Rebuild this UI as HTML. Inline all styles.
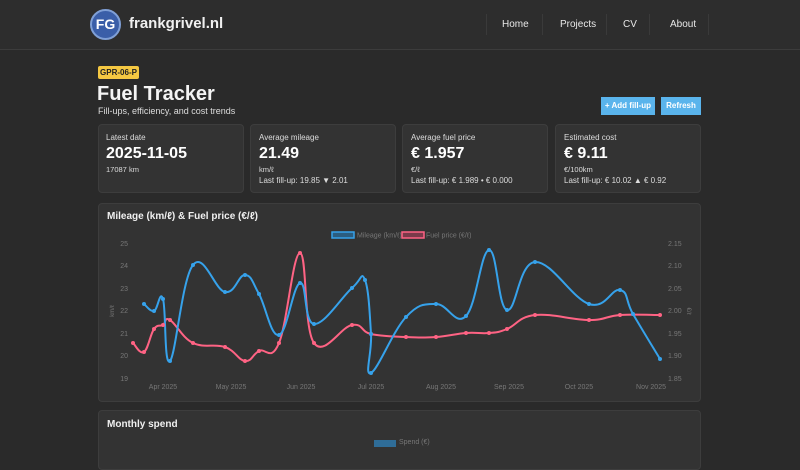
<!DOCTYPE html>
<html><head><meta charset="utf-8">
<style>
*{margin:0;padding:0;box-sizing:border-box}
body{width:800px;height:450px;overflow:hidden;background:#2a2a2a;font-family:"Liberation Sans",sans-serif;color:#eee;position:relative}
.a{position:absolute;white-space:nowrap}
.hdr{position:absolute;left:0;top:0;width:800px;height:50px;background:#2d2d2d;border-bottom:1px solid #3c3c3c}
.logo{left:90px;top:9px;width:31px;height:31px;border-radius:50%;background:#3a5ea8;border:2px solid #7f9fd6;color:#fff;font-weight:bold;font-size:14px;text-align:center;line-height:27px}
.nav{font-size:10px;color:#e8e8e8;top:19px}
.sep{top:14px;width:1px;height:21px;background:#3a3a3a}
.card{position:absolute;background:#333;border:1px solid #3d3d3d;border-radius:4px}
.lab{font-size:8px;color:#ddd}
.val{font-size:16px;font-weight:bold;color:#fff}
.sm{font-size:7.5px;color:#ddd}
.btn{position:absolute;background:#5ab4ec;color:#fff;font-size:8px;font-weight:bold;text-align:center;line-height:18px;height:18px;top:97px}
</style></head><body>
<div class="hdr"></div>
<div class="a logo">FG</div>
<div class="a" style="left:129px;top:15px;font-size:15px;font-weight:bold;color:#f0f0f0">frankgrivel.nl</div>
<div class="a sep" style="left:486px"></div><div class="a sep" style="left:542px"></div><div class="a sep" style="left:606px"></div><div class="a sep" style="left:649px"></div><div class="a sep" style="left:708px"></div>
<div class="a nav" style="left:502px">Home</div>
<div class="a nav" style="left:560px">Projects</div>
<div class="a nav" style="left:623px">CV</div>
<div class="a nav" style="left:670px">About</div>

<div class="a" style="left:98px;top:66px;width:41px;height:13px;background:#f5c842;border-radius:2px;color:#222;font-size:8px;font-weight:bold;text-align:center;line-height:13px">GPR-06-P</div>
<div class="a" style="left:97px;top:83px;font-size:20px;font-weight:bold;color:#f4f4f4">Fuel Tracker</div>
<div class="a" style="left:98px;top:106px;font-size:9px;color:#ddd">Fill-ups, efficiency, and cost trends</div>
<div class="btn" style="left:601px;width:54px">+ Add fill-up</div>
<div class="btn" style="left:661px;width:40px">Refresh</div>

<div class="card" style="left:98px;top:124px;width:146px;height:69px"></div>
<div class="card" style="left:250px;top:124px;width:146px;height:69px"></div>
<div class="card" style="left:402px;top:124px;width:146px;height:69px"></div>
<div class="card" style="left:555px;top:124px;width:146px;height:69px"></div>
<div class="a lab" style="left:106px;top:133px">Latest date</div>
<div class="a val" style="left:106px;top:145px">2025-11-05</div>
<div class="a sm" style="left:106px;top:165px">17087 km</div>
<div class="a lab" style="left:259px;top:133px">Average mileage</div>
<div class="a val" style="left:259px;top:145px">21.49</div>
<div class="a sm" style="left:259px;top:165px">km/ℓ</div>
<div class="a sm" style="left:259px;top:176px;font-size:8px">Last fill-up: 19.85 ▼ 2.01</div>
<div class="a lab" style="left:411px;top:133px">Average fuel price</div>
<div class="a val" style="left:411px;top:145px">€ 1.957</div>
<div class="a sm" style="left:411px;top:165px">€/ℓ</div>
<div class="a sm" style="left:411px;top:176px;font-size:8px">Last fill-up: € 1.989 • € 0.000</div>
<div class="a lab" style="left:564px;top:133px">Estimated cost</div>
<div class="a val" style="left:564px;top:145px">€ 9.11</div>
<div class="a sm" style="left:564px;top:165px">€/100km</div>
<div class="a sm" style="left:564px;top:176px;font-size:8px">Last fill-up: € 10.02 ▲ € 0.92</div>

<div class="card" style="left:98px;top:203px;width:603px;height:199px"></div>
<div class="a" style="left:107px;top:211px;font-size:10px;font-weight:bold;color:#f0f0f0">Mileage (km/ℓ) &amp; Fuel price (€/ℓ)</div>
<svg class="a" style="left:0;top:0" width="800" height="450" font-family="Liberation Sans, sans-serif" font-size="7" fill="#777">
<rect x="332" y="232" width="22" height="6" fill="#2b5d80" stroke="#36a2eb" stroke-width="1.5"/>
<text x="357" y="237.5">Mileage (km/ℓ)</text>
<rect x="402" y="232" width="22" height="6" fill="#7a3a4a" stroke="#ff6384" stroke-width="1.5"/>
<text x="426" y="237.5">Fuel price (€/ℓ)</text>
<g text-anchor="end">
<text x="128" y="246">25</text><text x="128" y="268">24</text><text x="128" y="291">23</text><text x="128" y="313">22</text><text x="128" y="336">21</text><text x="128" y="358">20</text><text x="128" y="381">19</text>
</g>
<g>
<text x="668" y="246">2.15</text><text x="668" y="268">2.10</text><text x="668" y="291">2.05</text><text x="668" y="313">2.00</text><text x="668" y="336">1.95</text><text x="668" y="358">1.90</text><text x="668" y="381">1.85</text>
</g>
<text transform="translate(114,311) rotate(-90)" text-anchor="middle" font-size="6">km/ℓ</text>
<text transform="translate(687,311) rotate(90)" text-anchor="middle" font-size="6">€/ℓ</text>
<g text-anchor="middle">
<text x="163" y="389">Apr 2025</text><text x="231" y="389">May 2025</text><text x="301" y="389">Jun 2025</text><text x="371" y="389">Jul 2025</text><text x="441" y="389">Aug 2025</text><text x="509" y="389">Sep 2025</text><text x="579" y="389">Oct 2025</text><text x="651" y="389">Nov 2025</text>
</g>
<path id="p2" fill="none" stroke="#ff6384" stroke-width="2"/>
<path id="p1" fill="none" stroke="#36a2eb" stroke-width="2"/>
<g id="d2" fill="#ff6384"></g><g id="d1" fill="#36a2eb"></g>
</svg>

<div class="card" style="left:98px;top:410px;width:603px;height:60px"></div>
<div class="a" style="left:107px;top:419px;font-size:10px;font-weight:bold;color:#f0f0f0">Monthly spend</div>
<div class="a" style="left:374px;top:440px;width:22px;height:7px;background:#2f6d98"></div>
<div class="a" style="left:399px;top:439px;font-size:7px;color:#777">Spend (€)</div>
<script>
var m=[[144,304],[154,311],[163,299],[170,361],[193,265],[225,292],[245,275],[259,294],[279,335],[300,283],[314,324],[352,288],[365,280],[371,334],[371,373],[406,317],[436,304],[466,316],[489,250],[507,310],[535,262],[589,304],[620,290],[633,314],[660,359]];
var p=[[133,343],[144,352],[154,329],[163,325],[170,320],[193,343],[225,347],[245,361],[259,351],[279,343],[300,253],[314,343],[352,325],[371,334],[406,337],[436,337],[466,333],[489,333],[507,329],[535,315],[589,320],[620,315],[660,315]];
function path(a){var d="M"+a[0][0]+","+a[0][1];for(var i=0;i<a.length-1;i++){var p0=a[Math.max(0,i-1)],p1=a[i],p2=a[i+1],p3=a[Math.min(a.length-1,i+2)],t=0.2;
var c1x=p1[0]+(p2[0]-p0[0])*t,c1y=p1[1]+(p2[1]-p0[1])*t,c2x=p2[0]-(p3[0]-p1[0])*t,c2y=p2[1]-(p3[1]-p1[1])*t;d+=" C"+c1x+","+c1y+" "+c2x+","+c2y+" "+p2[0]+","+p2[1];}return d;}
document.getElementById("p1").setAttribute("d",path(m));document.getElementById("p2").setAttribute("d",path(p));
function dots(a,id){var g=document.getElementById(id),s="";a.forEach(function(q){s+='<circle cx="'+q[0]+'" cy="'+q[1]+'" r="2"/>';});g.innerHTML=s;}
dots(m,"d1");dots(p,"d2");
</script>
</body></html>
